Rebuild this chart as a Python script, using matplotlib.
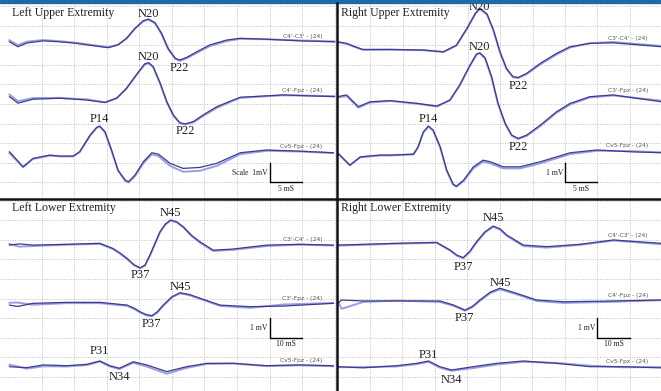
import matplotlib
matplotlib.use("Agg")
import numpy as np
import matplotlib.pyplot as plt
from matplotlib.lines import Line2D
from matplotlib.patches import Rectangle

# ---- upper extremity (time in ms, amplitude in mV relative to channel baseline) ----
lu_names = ["C4'-C3' - (24)", "C4'-Fpz - (24)", "Cv5-Fpz - (24)"]
lu_t1 = [0.0, 1.3, 2.7, 5.2, 7.8, 10.3, 12.9, 15.2, 16.7, 18.0, 19.3, 20.6, 21.4, 22.4, 23.4, 24.4, 25.5, 26.2, 27.3, 28.8, 30.8, 33.4, 35.5, 39.6, 44.7, 50.0]
lu_a1 = [-0.03, -0.28, -0.09, 0.02, -0.03, -0.11, -0.23, -0.33, -0.19, 0.15, 0.66, 1.05, 1.13, 0.94, 0.40, -0.36, -0.87, -0.96, -0.82, -0.54, -0.19, 0.06, 0.15, 0.10, 0.02, -0.03]
lu_b1 = [0.05, -0.20, -0.02, 0.06, 0.00, -0.08, -0.20, -0.30, -0.17, 0.13, 0.63, 1.02, 1.10, 0.91, 0.36, -0.40, -0.90, -1.00, -0.86, -0.60, -0.25, 0.01, 0.12, 0.10, 0.04, -0.01]
lu_t2 = [0.0, 1.3, 3.6, 7.8, 11.9, 14.7, 16.5, 18.0, 19.6, 20.8, 21.4, 22.1, 23.2, 24.2, 25.2, 26.2, 27.0, 28.3, 29.8, 31.9, 34.4, 35.5, 42.1, 50.0]
lu_a2 = [0.09, -0.24, -0.04, 0.01, -0.08, -0.21, 0.01, 0.52, 1.25, 1.76, 1.83, 1.63, 0.77, -0.16, -0.84, -1.23, -1.30, -1.18, -0.84, -0.42, -0.08, 0.06, 0.18, 0.09]
lu_b2 = [0.20, -0.14, 0.02, 0.03, -0.05, -0.19, 0.02, 0.50, 1.22, 1.73, 1.80, 1.60, 0.73, -0.20, -0.88, -1.27, -1.33, -1.22, -0.89, -0.48, -0.12, 0.03, 0.16, 0.12]
lu_t3 = [0.0, 2.1, 3.6, 6.2, 7.8, 9.8, 10.8, 12.4, 13.4, 13.9, 14.7, 15.7, 16.7, 17.8, 18.3, 19.3, 20.6, 21.9, 22.9, 24.7, 26.7, 29.3, 31.9, 35.5, 39.6, 44.7, 49.8]
lu_a3 = [0.17, -0.60, -0.17, 0.0, -0.05, -0.05, 0.17, 1.02, 1.41, 1.48, 1.19, 0.26, -0.77, -1.28, -1.36, -1.02, -0.34, 0.12, 0.05, -0.42, -0.68, -0.63, -0.42, 0.12, 0.26, 0.20, 0.12]
lu_b3 = [0.10, -0.62, -0.20, -0.03, -0.07, -0.07, 0.15, 0.99, 1.38, 1.45, 1.15, 0.22, -0.80, -1.32, -1.40, -1.08, -0.42, 0.04, -0.05, -0.55, -0.85, -0.80, -0.55, 0.05, 0.22, 0.18, 0.10]

ru_names = ["C3'-C4' - (24)", "C3'-Fpz - (24)", "Cv5-Fpz - (24)"]
ru_t1 = [0.0, 1.4, 2.7, 3.9, 8.1, 13.2, 16.3, 18.3, 19.9, 21.2, 21.9, 23.0, 24.0, 25.0, 26.0, 27.0, 27.8, 29.1, 31.2, 33.7, 35.8, 38.8, 42.4, 49.8]
ru_a1 = [0.37, 0.29, 0.12, -0.02, -0.02, -0.05, -0.14, 0.20, 1.05, 1.82, 2.08, 1.79, 0.97, -0.14, -0.99, -1.41, -1.45, -1.24, -0.73, -0.22, 0.12, 0.29, 0.32, 0.12]
ru_b1 = [0.35, 0.27, 0.10, -0.04, -0.03, -0.06, -0.15, 0.18, 1.02, 1.79, 2.05, 1.76, 0.93, -0.18, -1.02, -1.44, -1.48, -1.28, -0.78, -0.28, 0.08, 0.30, 0.36, 0.16]
ru_t2 = [0.0, 1.4, 3.2, 5.0, 8.1, 12.2, 15.3, 17.3, 18.8, 20.4, 21.4, 21.9, 22.7, 23.7, 24.7, 25.8, 26.8, 27.8, 29.1, 31.2, 33.7, 35.8, 38.8, 42.4, 49.8]
ru_a2 = [0.22, 0.31, -0.29, -0.04, 0.02, -0.12, -0.26, 0.05, 0.82, 1.84, 2.40, 2.46, 2.21, 1.24, -0.12, -1.14, -1.74, -1.91, -1.74, -1.23, -0.55, -0.12, 0.22, 0.31, -0.04]
ru_b2 = [0.18, 0.25, -0.34, -0.08, 0.00, -0.14, -0.28, 0.03, 0.79, 1.81, 2.37, 2.43, 2.17, 1.20, -0.16, -1.18, -1.77, -1.94, -1.78, -1.28, -0.60, -0.18, 0.18, 0.28, 0.02]
ru_t3 = [0.0, 1.9, 3.5, 6.5, 8.1, 11.7, 12.4, 13.2, 14.0, 14.7, 15.8, 16.8, 17.8, 18.3, 19.4, 20.9, 22.4, 23.5, 25.5, 28.1, 31.2, 35.8, 39.9, 45.0, 49.8]
ru_a3 = [0.12, -0.51, -0.09, 0.0, 0.0, 0.05, 0.42, 1.18, 1.48, 1.28, 0.42, -0.77, -1.49, -1.58, -1.28, -0.60, -0.26, -0.34, -0.60, -0.60, -0.34, 0.12, 0.26, 0.17, 0.12]
ru_b3 = [0.10, -0.53, -0.12, -0.02, -0.02, 0.03, 0.40, 1.15, 1.45, 1.25, 0.38, -0.80, -1.52, -1.62, -1.33, -0.68, -0.34, -0.42, -0.68, -0.68, -0.42, 0.05, 0.22, 0.20, 0.14]

# ---- lower extremity ----
ll_names = ["C3'-C4' - (24)", "C3'-Fpz - (24)", "Cv5-Fpz - (24)"]
ll_t1 = [0.0, 3.0, 7.2, 17.7, 27.8, 31.8, 34.0, 36.2, 38.3, 40.2, 41.7, 43.2, 44.8, 46.3, 48.0, 49.6, 51.5, 53.5, 56.0, 58.6, 62.7, 68.9, 79.1, 89.4, 99.6]
ll_a1 = [0.0, 0.06, 0.0, 0.04, 0.09, -0.17, -0.40, -0.68, -1.00, -1.16, -1.02, -0.51, 0.10, 0.68, 1.08, 1.28, 1.18, 0.93, 0.50, 0.17, -0.26, -0.20, 0.0, 0.04, 0.0]
ll_b1 = [0.06, -0.08, -0.05, 0.02, 0.06, -0.20, -0.44, -0.72, -1.03, -1.18, -1.05, -0.55, 0.06, 0.64, 1.05, 1.25, 1.15, 0.90, 0.46, 0.12, -0.30, -0.24, -0.05, 0.02, -0.02]
ll_t2 = [0.0, 2.5, 7.2, 17.7, 27.8, 36.2, 38.5, 40.2, 42.0, 43.8, 45.5, 47.3, 50.0, 52.5, 55.5, 58.6, 64.8, 74.0, 84.2, 99.6]
ll_a2 = [-0.08, -0.15, 0.01, 0.06, 0.06, -0.08, -0.25, -0.42, -0.56, -0.62, -0.42, -0.08, 0.35, 0.55, 0.45, 0.27, -0.08, -0.16, -0.13, 0.01]
ll_b2 = [0.04, 0.05, -0.06, 0.02, 0.02, -0.12, -0.29, -0.46, -0.60, -0.65, -0.46, -0.12, 0.31, 0.52, 0.42, 0.24, -0.12, -0.22, -0.05, 0.03]
ll_t3 = [0.0, 5.3, 10.4, 17.6, 23.8, 27.8, 30.9, 33.8, 38.1, 42.2, 48.4, 54.5, 60.7, 68.9, 79.1, 89.4, 99.6]
ll_a3 = [-0.06, -0.11, 0.03, -0.01, 0.06, 0.23, -0.01, -0.14, 0.19, 0.03, -0.31, -0.06, 0.11, 0.11, -0.01, 0.03, -0.01]
ll_b3 = [0.04, -0.16, -0.04, -0.05, 0.02, 0.20, -0.05, -0.18, 0.14, -0.05, -0.42, -0.12, 0.08, 0.10, -0.03, 0.01, -0.04]

rl_names = ["C4'-C3' - (24)", "C4'-Fpz - (24)", "Cv5-Fpz - (24)"]
rl_t1 = [0.0, 7.9, 18.2, 30.5, 34.6, 36.8, 38.7, 40.7, 42.8, 45.4, 47.9, 50.0, 52.1, 57.2, 64.4, 74.6, 84.9, 99.5]
rl_a1 = [-0.03, 0.01, 0.06, 0.11, -0.28, -0.55, -0.67, -0.35, 0.14, 0.65, 0.94, 0.80, 0.48, -0.03, -0.11, 0.01, 0.23, 0.06]
rl_b1 = [-0.06, -0.02, 0.04, 0.08, -0.30, -0.58, -0.70, -0.39, 0.10, 0.61, 0.90, 0.76, 0.44, -0.08, -0.16, -0.02, 0.20, 0.02]
rl_t2 = [0.0, 1.3, 7.9, 18.2, 31.5, 35.6, 39.2, 41.5, 43.8, 47.0, 50.0, 55.1, 61.3, 69.5, 84.9, 99.5]
rl_a2 = [-0.12, 0.05, 0.0, 0.0, 0.0, -0.20, -0.46, -0.28, 0.05, 0.45, 0.65, 0.39, 0.05, -0.04, 0.0, 0.05]
rl_b2 = [0.0, -0.40, -0.05, 0.02, -0.05, -0.24, -0.50, -0.32, 0.0, 0.40, 0.60, 0.34, 0.0, -0.10, -0.04, 0.04]
rl_t3 = [0.0, 7.9, 18.2, 24.4, 28.0, 31.5, 35.1, 41.8, 49.0, 57.2, 67.4, 77.7, 87.9, 99.5]
rl_a3 = [-0.03, -0.09, 0.02, 0.14, 0.26, -0.03, -0.20, -0.03, 0.14, 0.26, 0.14, -0.03, -0.03, -0.09]
rl_b3 = [-0.06, -0.05, -0.02, 0.10, 0.22, -0.08, -0.24, -0.10, 0.08, 0.22, 0.16, 0.02, -0.06, -0.05]

# peak labels: (channel, label, latency ms, vertical offset px)
lu_peaks = [(0, "N20", 21.4, 5), (0, "P22", 26.2, -8), (1, "N20", 21.4, 6), (1, "P22", 27.0, -7), (2, "P14", 13.9, 7)]
ru_peaks = [(0, "N20", 21.9, 1), (0, "P22", 27.8, -9), (1, "N20", 21.9, 6), (1, "P22", 27.8, -9), (2, "P14", 14.0, 7)]
ll_peaks = [(0, "N45", 49.6, 7), (0, "P37", 40.2, -7), (1, "N45", 52.5, 6), (1, "P37", 43.8, -8), (2, "P31", 27.8, 10), (2, "N34", 33.8, -9)]
rl_peaks = [(0, "N45", 47.9, 8), (0, "P37", 38.7, -9), (1, "N45", 50.0, 5), (1, "P37", 39.2, -8), (2, "P31", 28.0, 6), (2, "N34", 35.1, -10)]

W, H = 661, 391
DARK = "#3b3d8c"
LIGHT = "#9b9ee2"
SERIF = "Liberation Serif"

panels = [
    dict(title="Left Upper Extremity", rect=[0, 193, 336, 194], xlim=(-1.46, 50.23), ylim=(-0.80, 9.10),
         step=5, names=lu_names, base=[7.2, 4.28, 1.39],
         traces=[(lu_t1, lu_a1, lu_b1), (lu_t2, lu_a2, lu_b2), (lu_t3, lu_a3, lu_b3)], peaks=lu_peaks,
         bar=(40, 0), bar_lbl="Scale  1mV", t_lbl="5 mS"),
    dict(title="Right Upper Extremity", rect=[337, 193, 324, 194], xlim=(-0.08, 49.77), ylim=(-0.80, 9.10),
         step=5, names=ru_names, base=[6.80, 4.15, 1.39],
         traces=[(ru_t1, ru_a1, ru_b1), (ru_t2, ru_a2, ru_b2), (ru_t3, ru_a3, ru_b3)], peaks=ru_peaks,
         bar=(35, 0), bar_lbl="1 mV", t_lbl="5 mS"),
    dict(title="Left Lower Extremity", rect=[0, 0, 336, 192], xlim=(-2.92, 100.46), ylim=(-0.71, 9.08),
         step=10, names=ll_names, base=[6.73, 3.75, 0.59],
         traces=[(ll_t1, ll_a1, ll_b1), (ll_t2, ll_a2, ll_b2), (ll_t3, ll_a3, ll_b3)], peaks=ll_peaks,
         bar=(80, 2), bar_lbl="1 mV", t_lbl="10 mS"),
    dict(title="Right Lower Extremity", rect=[337, 0, 324, 192], xlim=(-0.15, 99.54), ylim=(-0.71, 9.08),
         step=10, names=rl_names, base=[6.76, 3.88, 0.56],
         traces=[(rl_t1, rl_a1, rl_b1), (rl_t2, rl_a2, rl_b2), (rl_t3, rl_a3, rl_b3)], peaks=rl_peaks,
         bar=(80, 2), bar_lbl="1 mV", t_lbl="10 mS"),
]

fig = plt.figure(figsize=(W / 100, H / 100), dpi=100)
fig.patch.set_facecolor("white")

for p in panels:
    x0, y0, w, h = p["rect"]
    ax = fig.add_axes([x0 / W, y0 / H, w / W, h / H])
    ax.set_xlim(*p["xlim"])
    ax.set_ylim(*p["ylim"])
    step = p["step"]
    ax.set_xticks(np.arange(step, p["xlim"][1], step))
    ax.set_yticks(np.arange(0, 10))
    ax.grid(True, ls=(0, (1, 1.5)), color="#bdbdbd", lw=0.7)
    ax.tick_params(length=0, labelbottom=False, labelleft=False)
    for s in ax.spines.values():
        s.set_visible(False)

    span = p["xlim"][1] - p["xlim"][0]
    for i, (t, a, b) in enumerate(p["traces"]):
        off = p["base"][i]
        ax.plot(t, np.array(b) + off, color=LIGHT, lw=1.4, solid_joinstyle="round")
        ax.plot(t, np.array(a) + off, color=DARK, lw=0.9, solid_joinstyle="round")
        # channel name sits just above the tail of its trace
        tail = max(v for tt, v in zip(t, a) if tt >= 0.8 * p["xlim"][1])
        ax.text(p["xlim"][1] - 0.04 * span, off + max(tail, 0) + 0.1, p["names"][i],
                fontsize=4.3, color="#555555", ha="right", va="bottom")

    for ch, lbl, lat, dy in p["peaks"]:
        t, a, _ = p["traces"][ch]
        yv = a[t.index(lat)] + p["base"][ch]
        ax.annotate(lbl, xy=(lat, yv), xytext=(0, dy * 0.72), textcoords="offset points",
                    ha="center", va="center", fontsize=9, family=SERIF, color="#222222")

    ax.text(0.035 if x0 == 0 else 0.012, 0.955, p["title"], transform=ax.transAxes,
            fontsize=8.5, family=SERIF, color="#222222", ha="left", va="center")

    bx, by = p["bar"]
    ax.plot([bx, bx, bx + step], [by + 1, by, by], color="black", lw=1.0)
    ax.text(bx - 0.3 * step / 5, by + 0.5, p["bar_lbl"], fontsize=5.5, family=SERIF,
            ha="right", va="center", color="#222222")
    ax.text(bx + step / 2, by - 0.12, p["t_lbl"], fontsize=5.5, family=SERIF,
            ha="center", va="top", color="#222222")

# frame: blue header strip and the black dividers between panels
fig.add_artist(Rectangle((0, (H - 3) / H), 1, 3 / H, transform=fig.transFigure,
                         color="#1d6aa5", zorder=10))
fig.add_artist(Line2D([336.5 / W, 336.5 / W], [0, (H - 3) / H], transform=fig.transFigure,
                      color="#111111", lw=1.8, zorder=10))
fig.add_artist(Line2D([0, 1], [(H - 198.5) / H, (H - 198.5) / H], transform=fig.transFigure,
                      color="#111111", lw=1.8, zorder=10))

fig.savefig("out.png", dpi=100)
